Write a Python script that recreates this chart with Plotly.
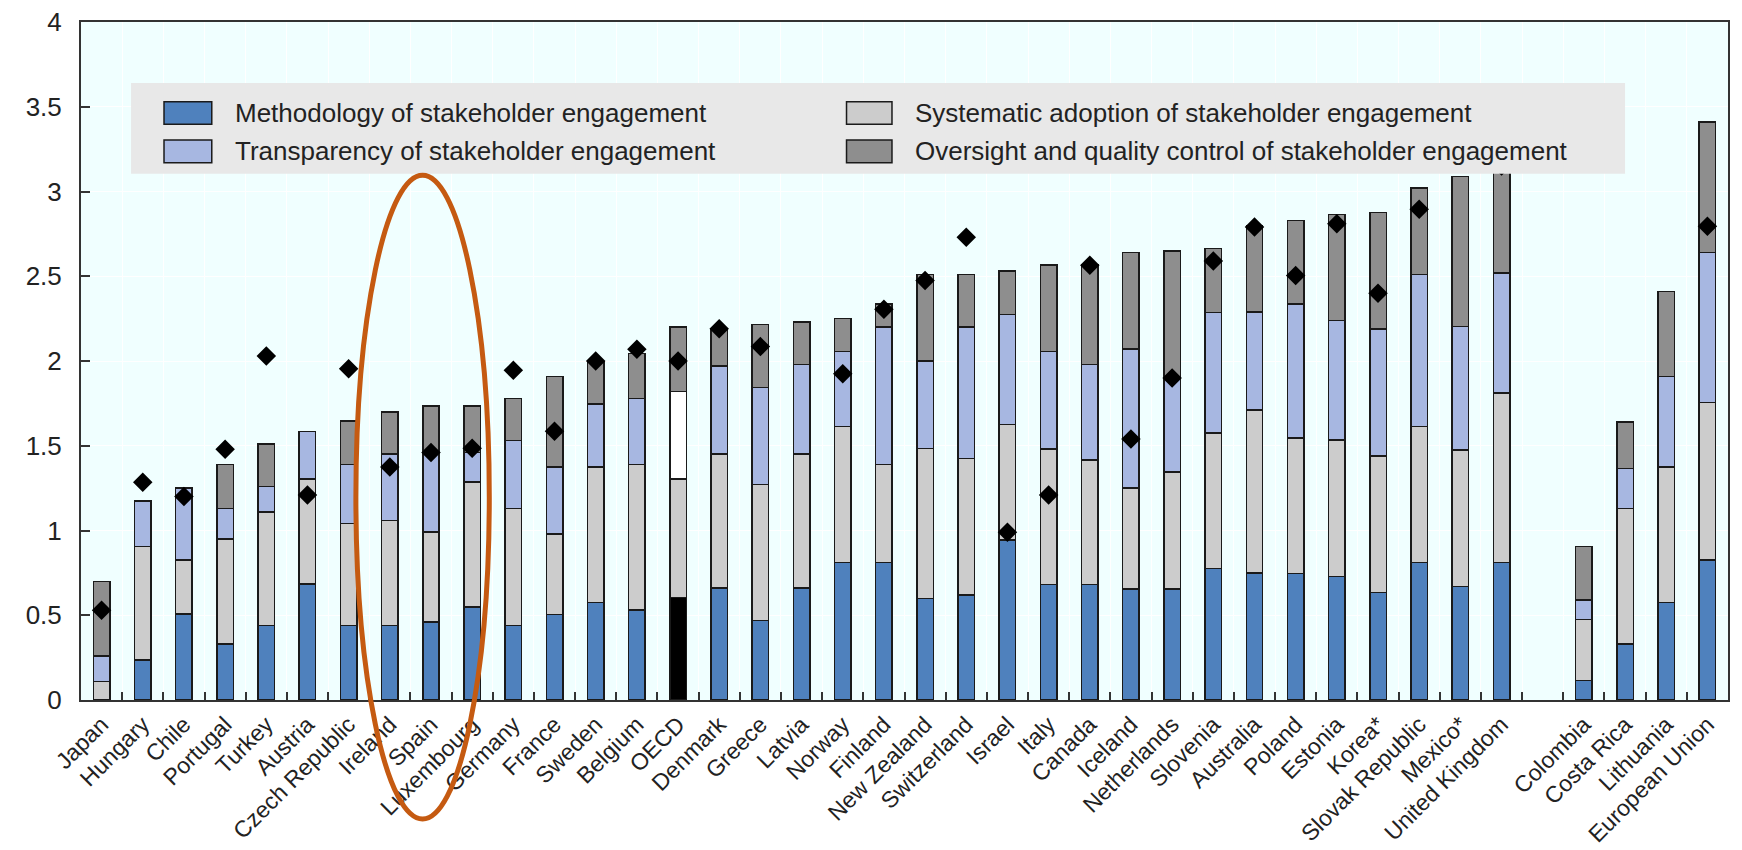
import plotly.graph_objects as go

countries = ["Japan", "Hungary", "Chile", "Portugal", "Turkey", "Austria", "Czech Republic",
             "Ireland", "Spain", "Luxembourg", "Germany", "France", "Sweden", "Belgium", "OECD",
             "Denmark", "Greece", "Latvia", "Norway", "Finland", "New Zealand", "Switzerland",
             "Israel", "Italy", "Canada", "Iceland", "Netherlands", "Slovenia", "Australia",
             "Poland", "Estonia", "Korea*", "Slovak Republic", "Mexico*", "United Kingdom", " ",
             "Colombia", "Costa Rica", "Lithuania", "European Union"]

methodology = [0.0, 0.235, 0.506, 0.33, 0.44, 0.685, 0.44, 0.44, 0.46, 0.55, 0.44, 0.505, 0.575,
               0.53, 0.605, 0.66, 0.47, 0.66, 0.81, 0.81, 0.60, 0.62, 0.945, 0.68, 0.68, 0.655,
               0.655, 0.775, 0.75, 0.745, 0.73, 0.635, 0.81, 0.67, 0.81, None,
               0.115, 0.33, 0.575, 0.825]
systematic = [0.11, 0.67, 0.32, 0.62, 0.67, 0.62, 0.60, 0.62, 0.53, 0.735, 0.69, 0.475, 0.80,
              0.86, 0.70, 0.79, 0.80, 0.79, 0.805, 0.58, 0.885, 0.805, 0.68, 0.80, 0.735, 0.595,
              0.69, 0.80, 0.96, 0.80, 0.805, 0.805, 0.805, 0.805, 1.0, None,
              0.36, 0.80, 0.80, 0.93]
transparency = [0.15, 0.27, 0.425, 0.18, 0.15, 0.28, 0.35, 0.39, 0.47, 0.175, 0.40, 0.395, 0.37,
                0.39, 0.515, 0.52, 0.575, 0.53, 0.44, 0.81, 0.515, 0.775, 0.65, 0.575, 0.565, 0.82,
                0.555, 0.71, 0.58, 0.79, 0.705, 0.75, 0.895, 0.73, 0.71, None,
                0.115, 0.235, 0.535, 0.885]
oversight = [0.44, 0.0, 0.0, 0.26, 0.25, 0.0, 0.255, 0.25, 0.275, 0.275, 0.25, 0.535, 0.25,
             0.265, 0.38, 0.22, 0.37, 0.25, 0.195, 0.135, 0.51, 0.31, 0.255, 0.51, 0.59, 0.57,
             0.75, 0.38, 0.51, 0.495, 0.625, 0.685, 0.51, 0.885, 0.68, None,
             0.315, 0.275, 0.50, 0.77]
composite = [0.53, 1.285, 1.20, 1.48, 2.03, 1.21, 1.955, 1.375, 1.46, 1.485, 1.945, 1.585, 2.0,
             2.07, 2.0, 2.19, 2.085, None, 1.925, 2.305, 2.475, 2.73, 0.99, 1.21, 2.565, 1.54,
             1.90, 2.59, 2.79, 2.505, 2.81, 2.40, 2.895, None, 3.15, None,
             None, None, None, 2.795]

series_names = ["Methodology of stakeholder engagement",
                "Systematic adoption of stakeholder engagement",
                "Transparency of stakeholder engagement",
                "Oversight and quality control of stakeholder engagement"]

C_METH, C_SYS, C_TRANS, C_OVER = "#4f81bd", "#cccccc", "#a7b7e1", "#8e8e8e"
OECD_COLORS = {"meth": "#000000", "sys": "#cccccc", "trans": "#ffffff", "over": "#8e8e8e"}

def colors(base, key):
    return [OECD_COLORS[key] if c == "OECD" else base for c in countries]

FONT = "Arial, Liberation Sans, sans-serif"
line = dict(color="#1a1a1a", width=1.5)

fig = go.Figure()
for vals, base, key, name in [(methodology, C_METH, "meth", series_names[0]),
                              (systematic, C_SYS, "sys", series_names[1]),
                              (transparency, C_TRANS, "trans", series_names[2]),
                              (oversight, C_OVER, "over", series_names[3])]:
    fig.add_trace(go.Bar(x=countries, y=vals, name=name, showlegend=False,
                         marker=dict(color=colors(base, key), line=line)))

fig.add_trace(go.Scatter(x=countries, y=composite, mode="markers", showlegend=False,
                         marker=dict(symbol="diamond", size=15, color="#000000")))

# manual legend (box, swatches, labels)
shapes = [dict(type="rect", xref="paper", yref="paper", x0=0.0304, x1=0.9375, y0=0.776, y1=0.910,
               fillcolor="#e8e8e8", line=dict(width=0), layer="above")]
sw = [(0.0504, 0.0794, 0.8491, 0.8824, C_METH), (0.0504, 0.0794, 0.7925, 0.8260, C_TRANS),
      (0.4648, 0.4924, 0.8491, 0.8824, C_SYS), (0.4648, 0.4924, 0.7925, 0.8260, C_OVER)]
for x0, x1, y0, y1, col in sw:
    shapes.append(dict(type="rect", xref="paper", yref="paper", x0=x0, x1=x1, y0=y0, y1=y1,
                       fillcolor=col, line=dict(color="#1a1a1a", width=1.5), layer="above"))
# highlight ellipse
shapes.append(dict(type="circle", xref="paper", yref="paper", x0=0.1669, x1=0.2479,
                   y0=-0.1756, y1=0.774, line=dict(color="#c55a11", width=5), layer="above"))

annotations = []
for x, y, txt in [(0.0923, 0.8658, series_names[0]), (0.0923, 0.8090, series_names[2]),
                  (0.5052, 0.8658, series_names[1]), (0.5052, 0.8090, series_names[3])]:
    annotations.append(dict(xref="paper", yref="paper", x=x, y=y, text=txt, showarrow=False,
                            xanchor="left", yanchor="middle",
                            font=dict(family=FONT, size=26, color="#222222")))

fig.update_layout(
    barmode="stack", bargap=0.6,
    width=1742, height=850,
    margin=dict(l=81, r=14, t=22, b=150, autoexpand=False),
    paper_bgcolor="#ffffff", plot_bgcolor="#f0ffff",
    font=dict(family=FONT, size=23, color="#222222"),
    shapes=shapes, annotations=annotations,
    xaxis=dict(type="category", tickangle=-45, tickson="boundaries", ticks="inside",
               ticklen=8, tickwidth=1.5, tickcolor="#333333", showgrid=True,
               gridcolor="#ffffff", gridwidth=1, showline=True, linecolor="#333333",
               linewidth=2, mirror=True, automargin=False,
               tickfont=dict(family=FONT, size=23, color="#222222"), range=[-0.5, 39.5]),
    yaxis=dict(range=[0, 4], dtick=0.5, tick0=0, ticks="inside", ticklen=9, tickwidth=1.5,
               tickcolor="#333333", showgrid=True, gridcolor="#ffffff", gridwidth=1,
               showline=True, linecolor="#333333", linewidth=2, mirror=True, zeroline=False,
               automargin=False, ticklabelstandoff=12,
               tickfont=dict(family=FONT, size=26, color="#222222")),
)

fig.write_html("out.html", config={"displayModeBar": False},
               post_script="document.body.style.margin='0';document.body.style.overflow='hidden';")
